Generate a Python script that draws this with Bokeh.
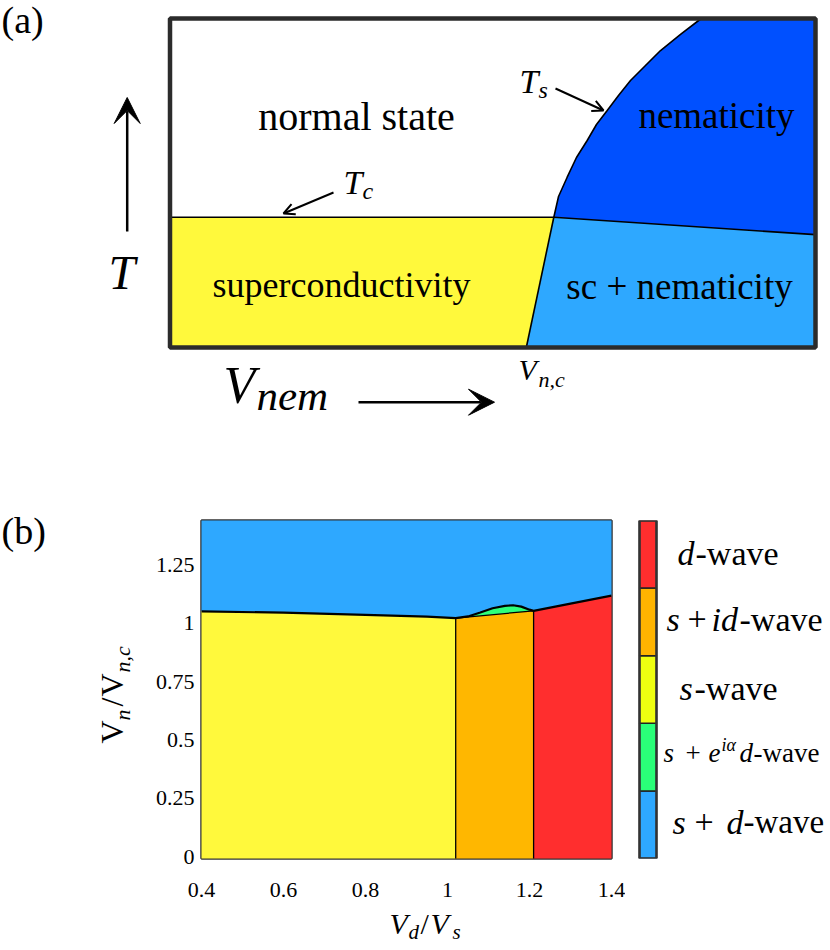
import math
from bokeh.plotting import figure
from bokeh.models import Range1d, Label, Arrow, VeeHead, OpenHead, FixedTicker
from bokeh.layouts import column, row
from bokeh.embed import file_html
from bokeh.resources import INLINE

SERIF = "Liberation Serif"

# ---------------- panel (a): schematic phase diagram (V_nem, T in units of the box) ----------------
Tc = 0.396
vnem_sc_boundary = [0.552, 0.5946]          # sc | sc+nematicity boundary, from T=0 to T=Tc
T_sc_boundary = [0.0, 0.396]
vnem_Ts = [0.5946, 0.6019, 0.6153, 0.6297, 0.6463, 0.6607, 0.6773, 0.6948, 0.7134, 0.7366, 0.7599, 0.7909, 0.8230]
T_Ts = [0.396, 0.459, 0.5176, 0.5775, 0.6292, 0.6778, 0.7204, 0.766, 0.8116, 0.8571, 0.9027, 0.9514, 1.0]
vnem_nem_boundary = [0.5946, 1.0]           # nematicity | sc+nematicity boundary
T_nem_boundary = [0.396, 0.343]

# ---------------- panel (b): computed phase diagram ----------------
vdvs_upper = [0.40, 0.60, 0.80, 0.95, 1.02, 1.05, 1.08, 1.11, 1.14, 1.16, 1.18, 1.20, 1.21, 1.30, 1.40]
vn_upper = [1.051, 1.045, 1.036, 1.028, 1.022, 1.029, 1.046, 1.064, 1.074, 1.077, 1.071, 1.058, 1.053, 1.084, 1.118]
vdvs_green_lower = [1.02, 1.21]
vn_green_lower = [1.022, 1.053]
vdvs_s_to_sid = 1.02
vdvs_sid_to_d = 1.21
x_ticks = [0.4, 0.6, 0.8, 1.0, 1.2, 1.4]
x_tick_labels = ["0.4", "0.6", "0.8", "1", "1.2", "1.4"]
y_ticks = [0.0, 0.25, 0.5, 0.75, 1.0, 1.25]
y_tick_labels = ["0", "0.25", "0.5", "0.75", "1", "1.25"]
phase_colors = ["#2ea8ff", "#2aff78", "#eeff10", "#ffb400", "#ff2e2e"]   # s+d, s+e^ia d, s, s+id, d
map_colors = {"sd": "#2ea8ff", "seia": "#2dff7a", "s": "#fff93c", "sid": "#ffb700", "d": "#ff2e2e"}

W = 826     # total width used
H = 946     # total height used
HA = 438    # height of panel (a) strip

MID = 0.3375   # distance baseline -> middle of the text box, in em


def no_frame_align(f):
    try:
        f.frame_align = False
    except Exception:
        pass


def alabel(p, fx, fy, px, py, text, size, style="normal", align="left", angle=0.0):
    # (px, py): wanted baseline position in picture pixels
    if angle == 0.0:
        ax_, ay_ = px, py - MID * size
    else:
        ax_, ay_ = px - MID * size, py
    p.add_layout(Label(x=fx(ax_), y=fy(ay_), text=text, text_font=SERIF, text_font_size=f"{size}px",
                       text_font_style=style, text_align=align, text_baseline="middle",
                       text_color="black", angle=angle))


def text_fig(x0, x1, y0, y1):
    f = figure(width=x1 - x0, height=y1 - y0, x_range=Range1d(x0, x1), y_range=Range1d(-y1, -y0),
               min_border=0, x_axis_location=None, y_axis_location=None, toolbar_location=None,
               output_backend="svg", outline_line_color=None)
    f.grid.visible = False
    no_frame_align(f)
    return f


def px_id(px):
    return px


def py_neg(py):
    return -py


# =============================== figure (a) ===============================
def ax(px):
    return (px - 169.5) / 645.5


def ay(py):
    return (347.0 - py) / 329.0


pa = figure(width=W, height=HA, x_range=Range1d(ax(0), ax(W)), y_range=Range1d(ay(HA), ay(0)),
            min_border=0, x_axis_location=None, y_axis_location=None, toolbar_location=None,
            output_backend="svg", outline_line_color=None)
pa.grid.visible = False
no_frame_align(pa)

YEL_A = "#fff93c"
LB = "#2ea8ff"
DB = "#0050ff"
j_x, j_T = vnem_sc_boundary[1], Tc
pa.patch([0, vnem_sc_boundary[0], j_x, 0], [0, 0, j_T, j_T], fill_color=YEL_A, line_color=None)
pa.patch([vnem_sc_boundary[0], 1, vnem_nem_boundary[1], j_x], [0, 0, T_nem_boundary[1], j_T],
         fill_color=LB, line_color=None)
pa.patch(vnem_Ts + [1, 1], T_Ts + [1, T_nem_boundary[1]], fill_color=DB, line_color=None)
pa.line([0, j_x], [Tc, Tc], line_color="black", line_width=1.6)
pa.line(vnem_sc_boundary, T_sc_boundary, line_color="black", line_width=1.6)
pa.line(vnem_Ts, T_Ts, line_color="black", line_width=1.6)
pa.line(vnem_nem_boundary, T_nem_boundary, line_color="black", line_width=1.6)
pa.quad(left=0, right=1, bottom=0, top=1, fill_color=None, line_color="#2b2b2b", line_width=4.5)

alabel(pa, ax, ay, 356, 129, "normal state", 40, align="center")
alabel(pa, ax, ay, 716, 127, "nematicity", 37, align="center")
alabel(pa, ax, ay, 341, 297, "superconductivity", 36, align="center")
alabel(pa, ax, ay, 679, 298, "sc + nematicity", 37, align="center")
alabel(pa, ax, ay, 1, 32, "(a)", 38)
# T_c, T_s
alabel(pa, ax, ay, 343, 193, "T", 34, "italic")
alabel(pa, ax, ay, 362, 199, "c", 24, "italic")
alabel(pa, ax, ay, 519, 92, "T", 34, "italic")
alabel(pa, ax, ay, 538, 98, "s", 24, "italic")
# big T, V_nem, V_n,c
alabel(pa, ax, ay, 108, 288, "T", 48, "italic")
alabel(pa, ax, ay, 223, 403, "V", 52, "italic")
alabel(pa, ax, ay, 256, 410, "nem", 43, "italic")
alabel(pa, ax, ay, 518, 379, "V", 30, "italic")
alabel(pa, ax, ay, 538, 386, "n,c", 22, "italic")

pa.add_layout(Arrow(end=OpenHead(size=11, line_width=2), x_start=ax(333), y_start=ay(192),
                    x_end=ax(283), y_end=ay(213), line_width=2))
pa.add_layout(Arrow(end=OpenHead(size=11, line_width=2), x_start=ax(555), y_start=ay(88),
                    x_end=ax(603), y_end=ay(110), line_width=2))
pa.add_layout(Arrow(end=VeeHead(size=26, fill_color="black", line_color="black"),
                    x_start=ax(126.7), y_start=ay(231), x_end=ax(126.7), y_end=ay(97), line_width=2.5))
pa.add_layout(Arrow(end=VeeHead(size=26, fill_color="black", line_color="black"),
                    x_start=ax(358), y_start=ay(401.7), x_end=ax(494), y_end=ay(401.7), line_width=2.5))

# =============================== figure (b) ===============================
XL, XM, XR = 141, 625, W          # left strip | plot | colour bar
YB_TOP, YB_BOT = 905, H           # x-label strip
pb = figure(width=XM - XL, height=YB_TOP - HA, x_range=Range1d(0.4, 1.4), y_range=Range1d(-0.008, 1.44),
            min_border_left=201 - XL, min_border_right=XM - 611, min_border_top=520 - HA,
            min_border_bottom=YB_TOP - 858, toolbar_location=None, output_backend="svg")
pb.grid.visible = False
pb.outline_line_color = "#333333"
pb.outline_line_width = 2.5
pb.outline_line_alpha = 1.0
no_frame_align(pb)

ybot, ytop = -0.2, 1.7
# s + d-wave (above the boundary)
pb.patch([vdvs_upper[0] - 0.05] + vdvs_upper + [vdvs_upper[-1] + 0.05, vdvs_upper[-1] + 0.05, vdvs_upper[0] - 0.05],
         [vn_upper[0]] + vn_upper + [vn_upper[-1], ytop, ytop], fill_color=map_colors["sd"], line_color=None)
# s-wave
xs_s = [x for x in vdvs_upper if x <= vdvs_s_to_sid]
ys_s = vn_upper[:len(xs_s)]
pb.patch([xs_s[0] - 0.05, vdvs_s_to_sid] + xs_s[::-1] + [xs_s[0] - 0.05],
         [ybot, ybot] + ys_s[::-1] + [ys_s[0]], fill_color=map_colors["s"], line_color=None)
# s + id-wave
pb.patch([vdvs_s_to_sid, vdvs_sid_to_d] + vdvs_green_lower[::-1], [ybot, ybot] + vn_green_lower[::-1],
         fill_color=map_colors["sid"], line_color=None)
# d-wave
i_d = vdvs_upper.index(vdvs_sid_to_d)
xs_d = vdvs_upper[i_d:]
ys_d = vn_upper[i_d:]
pb.patch([vdvs_sid_to_d, xs_d[-1] + 0.05, xs_d[-1] + 0.05] + xs_d[::-1],
         [ybot, ybot, ys_d[-1]] + ys_d[::-1], fill_color=map_colors["d"], line_color=None)
# s + e^{ia} d-wave
i_s = vdvs_upper.index(vdvs_s_to_sid)
xs_g = vdvs_upper[i_s:i_d + 1]
ys_g = vn_upper[i_s:i_d + 1]
pb.patch(xs_g + vdvs_green_lower[::-1], ys_g + vn_green_lower[::-1], fill_color=map_colors["seia"], line_color=None)
# boundaries
pb.line(vdvs_upper, vn_upper, line_color="black", line_width=2.2)
pb.line(vdvs_green_lower, vn_green_lower, line_color="black", line_width=1.3)
pb.line([vdvs_s_to_sid, vdvs_s_to_sid], [ybot, vn_upper[i_s]], line_color="black", line_width=1.3)
pb.line([vdvs_sid_to_d, vdvs_sid_to_d], [ybot, vn_upper[i_d]], line_color="black", line_width=1.3)

pb.xaxis.ticker = FixedTicker(ticks=x_ticks)
pb.xaxis.major_label_overrides = dict(zip(x_ticks, x_tick_labels))
pb.yaxis.ticker = FixedTicker(ticks=y_ticks)
pb.yaxis.major_label_overrides = dict(zip(y_ticks, y_tick_labels))
for a in (pb.xaxis[0], pb.yaxis[0]):
    a.axis_line_color = None
    a.major_tick_line_color = None
    a.minor_tick_line_color = None
    a.major_tick_out = 0
    a.major_tick_in = 0
    a.minor_tick_out = 0
    a.minor_tick_in = 0
    a.major_label_text_font = SERIF
    a.major_label_text_font_size = "22px"
    a.major_label_text_color = "black"
pb.xaxis.major_label_standoff = 24
pb.yaxis.major_label_standoff = 7

# left strip: "(b)" and rotated y label V_n/V_n,c
pl = text_fig(0, XL, HA, H)
alabel(pl, px_id, py_neg, 1, 543, "(b)", 38)
R = math.pi / 2
alabel(pl, px_id, py_neg, 122, 743, "V", 32, angle=R)
alabel(pl, px_id, py_neg, 129, 720, "n", 22, "italic", angle=R)
alabel(pl, px_id, py_neg, 122, 706, "/", 32, angle=R)
alabel(pl, px_id, py_neg, 122, 696, "V", 32, angle=R)
alabel(pl, px_id, py_neg, 129, 672, "n,c", 22, "italic", angle=R)

# bottom strip: x label V_d/V_s
pxl = text_fig(XL, XM, YB_TOP, YB_BOT)
alabel(pxl, px_id, py_neg, 389, 933, "V", 30, "italic")
alabel(pxl, px_id, py_neg, 408, 939, "d", 21, "italic")
alabel(pxl, px_id, py_neg, 420, 933, "/", 30)
alabel(pxl, px_id, py_neg, 430, 933, "V", 30, "italic")
alabel(pxl, px_id, py_neg, 452, 939, "s", 21, "italic")

# =============================== colour bar ===============================
def cx(px):
    return (px - 639.0) / 17.0


def cy(py):
    return (858.0 - py) / 67.6


pc = figure(width=XR - XM, height=H - HA, x_range=Range1d(cx(XM), cx(XR)), y_range=Range1d(0, 5),
            min_border_left=0, min_border_right=0, min_border_top=520 - HA, min_border_bottom=H - 858,
            x_axis_location=None, y_axis_location=None, toolbar_location=None,
            output_backend="svg", outline_line_color=None)
pc.grid.visible = False
no_frame_align(pc)
n = len(phase_colors)
pc.quad(left=[0] * n, right=[1] * n, bottom=list(range(n)), top=[i + 1 for i in range(n)],
        fill_color=phase_colors, line_color="#222222", line_width=1.5)
pc.quad(left=0, right=1, bottom=0, top=n, fill_color=None, line_color="#333333", line_width=2.5)

# d-wave
alabel(pc, cx, cy, 677, 564, "d", 34, "italic")
alabel(pc, cx, cy, 695, 564, "-wave", 34)
# s + id-wave
alabel(pc, cx, cy, 666, 630, "s", 34, "italic")
alabel(pc, cx, cy, 687, 630, "+", 34)
alabel(pc, cx, cy, 711, 630, "id", 34, "italic")
alabel(pc, cx, cy, 739, 630, "-wave", 34)
# s-wave
alabel(pc, cx, cy, 679, 699, "s", 34, "italic")
alabel(pc, cx, cy, 694, 699, "-wave", 34)
# s + e^{ia} d-wave
alabel(pc, cx, cy, 663, 762, "s", 27, "italic")
alabel(pc, cx, cy, 685, 762, "+", 27)
alabel(pc, cx, cy, 708, 762, "e", 27, "italic")
alabel(pc, cx, cy, 721, 751, "iα", 18, "italic")
alabel(pc, cx, cy, 739, 762, "d", 27, "italic")
alabel(pc, cx, cy, 753, 762, "-wave", 27)
# s + d-wave
alabel(pc, cx, cy, 672, 833, "s", 34, "italic")
alabel(pc, cx, cy, 694, 833, "+", 34)
alabel(pc, cx, cy, 726, 833, "d", 34, "italic")
alabel(pc, cx, cy, 743, 833, "-wave", 33)

layout = column(pa, row(pl, column(pb, pxl), pc))
open("out.html", "w").write(file_html(layout, INLINE))
